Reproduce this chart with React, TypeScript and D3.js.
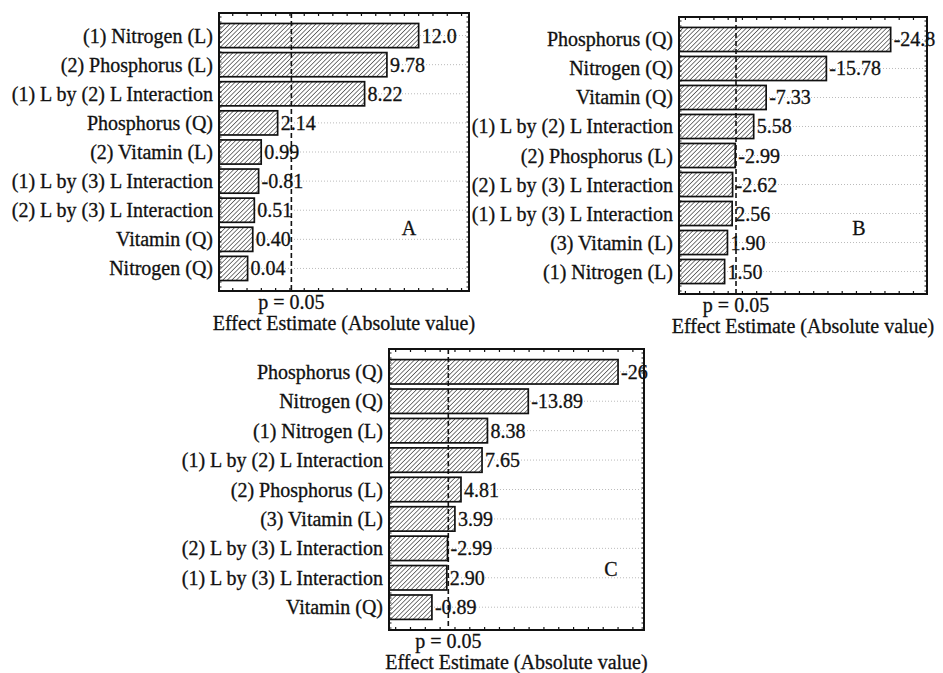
import React from 'react';
import * as d3 from 'd3';

// Pareto charts of standardized effects, three panels
const termsA = [
  '(1) Nitrogen (L)',
  '(2) Phosphorus (L)',
  '(1) L by (2) L Interaction',
  'Phosphorus (Q)',
  '(2) Vitamin (L)',
  '(1) L by (3) L Interaction',
  '(2) L by (3) L Interaction',
  'Vitamin (Q)',
  'Nitrogen (Q)',
];
const effectsA = ['12.0', '9.78', '8.22', '2.14', '0.99', '-0.81', '0.51', '0.40', '0.04'];

const termsB = [
  'Phosphorus (Q)',
  'Nitrogen (Q)',
  'Vitamin (Q)',
  '(1) L by (2) L Interaction',
  '(2) Phosphorus (L)',
  '(2) L by (3) L Interaction',
  '(1) L by (3) L Interaction',
  '(3) Vitamin (L)',
  '(1) Nitrogen (L)',
];
const effectsB = ['-24.8', '-15.78', '-7.33', '5.58', '-2.99', '-2.62', '2.56', '1.90', '1.50'];

const termsC = [
  'Phosphorus (Q)',
  'Nitrogen (Q)',
  '(1) Nitrogen (L)',
  '(1) L by (2) L Interaction',
  '(2) Phosphorus (L)',
  '(3) Vitamin (L)',
  '(2) L by (3) L Interaction',
  '(1) L by (3) L Interaction',
  'Vitamin (Q)',
];
const effectsC = ['-26', '-13.89', '8.38', '7.65', '4.81', '3.99', '-2.99', '2.90', '-0.89'];

const pCritical = 3.1;
const pLabel = 'p = 0.05';
const xTitle = 'Effect Estimate (Absolute value)';

const font = 'Liberation Serif, DejaVu Serif, serif';
const fontSize = 20;

type Box = { x: number; y: number; w: number; h: number };

function Panel({
  terms,
  effects,
  domain,
  frame,
  letter,
  letterPos,
}: {
  terms: string[];
  effects: string[];
  domain: [number, number];
  frame: Box;
  letter: string;
  letterPos: [number, number];
}) {
  const x = d3.scaleLinear().domain(domain).range([frame.x, frame.x + frame.w]);
  const y = d3
    .scaleBand()
    .domain(terms)
    .range([frame.y, frame.y + frame.h])
    .paddingInner(0.17)
    .paddingOuter(0.36);
  const x0 = frame.x;
  const bottom = frame.y + frame.h;
  const right = frame.x + frame.w;
  const xTicks = x.ticks(20);
  const sideTicks = d3.range(frame.y + 4, bottom, 5);
  const mid = (t: string) => y(t)! + y.bandwidth() / 2;

  return (
    <g fontFamily={font} fontSize={fontSize} fill="#111">
      {/* dotted row guides */}
      {terms.map((t) => (
        <line
          key={'g' + t}
          x1={x0}
          x2={right}
          y1={mid(t)}
          y2={mid(t)}
          stroke="#bbb"
          strokeWidth={1}
          strokeDasharray="1,2"
        />
      ))}
      {terms.map((t, i) => (
        <rect
          key={'b' + t}
          x={x0}
          y={y(t)}
          width={x(Math.abs(+effects[i])) - x0}
          height={y.bandwidth()}
          fill="url(#hatch)"
          stroke="#111"
          strokeWidth={1.7}
        />
      ))}
      <line
        x1={x(pCritical)}
        x2={x(pCritical)}
        y1={frame.y}
        y2={bottom}
        stroke="#111"
        strokeWidth={1.6}
        strokeDasharray="5,3"
      />
      {/* frame with inward ticks */}
      <rect x={frame.x} y={frame.y} width={frame.w} height={frame.h} fill="none" stroke="#111" strokeWidth={2} />
      {xTicks.map((v) => (
        <g key={'t' + v}>
          <line x1={x(v)} x2={x(v)} y1={frame.y} y2={frame.y + 3} stroke="#111" strokeWidth={1.2} />
          <line x1={x(v)} x2={x(v)} y1={bottom} y2={bottom - 3} stroke="#111" strokeWidth={1.2} />
        </g>
      ))}
      {sideTicks.map((v) => (
        <g key={'s' + v}>
          <line x1={x0} x2={x0 + 2.5} y1={v} y2={v} stroke="#111" strokeWidth={1} />
          <line x1={right} x2={right - 2.5} y1={v} y2={v} stroke="#111" strokeWidth={1} />
        </g>
      ))}
      <g stroke="#111" strokeWidth={0.3}>
        {terms.map((t) => (
          <text key={'l' + t} x={x0 - 6} y={mid(t)} dy="0.35em" textAnchor="end">
            {t}
          </text>
        ))}
        {terms.map((t, i) => (
          <text key={'v' + t} x={x(Math.abs(+effects[i])) + 3} y={mid(t)} dy="0.35em">
            {effects[i]}
          </text>
        ))}
        <text x={letterPos[0]} y={letterPos[1]} dy="0.35em" textAnchor="middle">
          {letter}
        </text>
        <text x={x(pCritical)} y={bottom + 18} textAnchor="middle">
          {pLabel}
        </text>
        <text x={frame.x + frame.w / 2} y={bottom + 39} textAnchor="middle">
          {xTitle}
        </text>
      </g>
    </g>
  );
}

export default function App() {
  const width = 943,
    height = 673;
  return (
    <div style={{ position: 'absolute', left: 0, top: 0 }}>
      <svg width={width} height={height} style={{ display: 'block', background: '#fff' }}>
        <defs>
          <pattern id="hatch" patternUnits="userSpaceOnUse" width={3.2} height={3.2} patternTransform="rotate(45)">
            <rect width={3.2} height={3.2} fill="#fff" />
            <line x1={0} y1={0} x2={0} y2={3.2} stroke="#333" strokeWidth={1.3} />
          </pattern>
        </defs>
        <Panel
          terms={termsA}
          effects={effectsA}
          domain={[-1.96, 15.52]}
          frame={{ x: 219, y: 13, w: 250, h: 278 }}
          letter="A"
          letterPos={[409, 228]}
        />
        <Panel
          terms={termsB}
          effects={effectsB}
          domain={[-4.9, 29.9]}
          frame={{ x: 679, y: 17, w: 248, h: 277 }}
          letter="B"
          letterPos={[859, 228]}
        />
        <Panel
          terms={termsC}
          effects={effectsC}
          domain={[-4.9, 29.5]}
          frame={{ x: 389, y: 349, w: 255, h: 281 }}
          letter="C"
          letterPos={[611, 569]}
        />
      </svg>
    </div>
  );
}
